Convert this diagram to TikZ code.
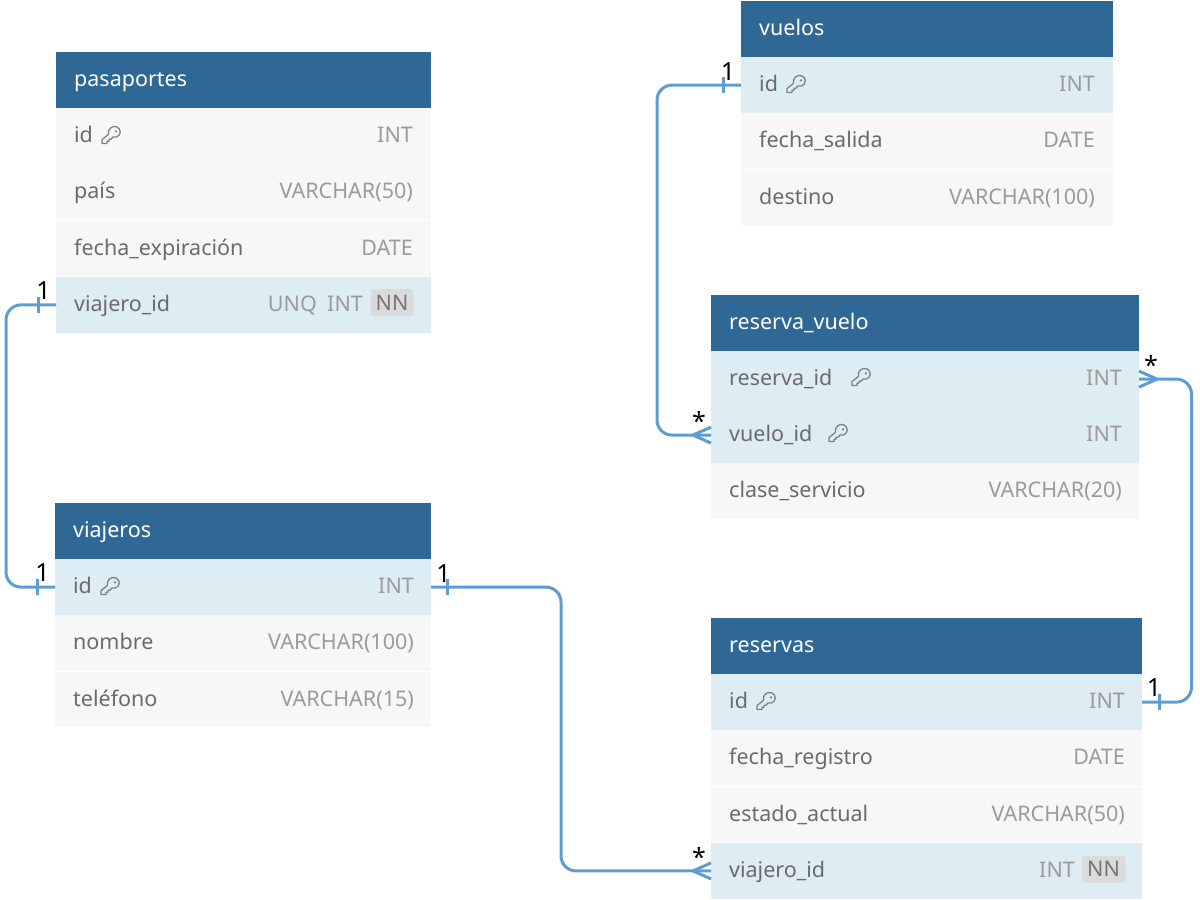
\documentclass[tikz,border=0pt]{standalone}
\usepackage{fontspec}
\setmainfont{Noto Sans}
\definecolor{hdr}{HTML}{306895}
\definecolor{hl}{HTML}{DEECF4}
\definecolor{plain}{HTML}{F7F7F7}
\definecolor{nametxt}{HTML}{6B6B6B}
\definecolor{typetxt}{HTML}{9B9B9B}
\definecolor{conn}{HTML}{5F9CD1}
\definecolor{badge}{HTML}{DBDBDB}
\tikzset{
  hbox/.style={fill=hdr,anchor=north west,inner sep=0pt,outer sep=0pt},
  rbox/.style={anchor=north west,inner sep=0pt,outer sep=0pt},
  hlrow/.style={rbox,fill=hl},
  plainrow/.style={rbox,fill=plain},
  title/.style={anchor=base west,inner sep=0pt,text=white,font=\fontsize{21.5}{26}\selectfont\bfseries},
  colname/.style={anchor=base west,inner sep=0pt,text=nametxt,font=\fontsize{21.5}{26}\selectfont},
  pkname/.style={colname,font=\fontsize{21.5}{26}\selectfont\bfseries},
  coltype/.style={anchor=base east,inner sep=0pt,text=typetxt,font=\fontsize{21.5}{26}\selectfont},
  pktype/.style={coltype,font=\fontsize{21.5}{26}\selectfont\bfseries},
  nnbox/.style={fill=badge,rounded corners=3pt,text=nametxt!80!typetxt,inner sep=0pt,minimum width=43pt,minimum height=27pt,font=\fontsize{21.5}{26}\selectfont},
  link/.style={draw=conn,line width=3pt,rounded corners=15pt},
  mark1/.style={draw=conn,line width=3pt},
  card/.style={inner sep=0pt,text=black,font=\fontsize{25}{30}\selectfont},
  keyicon/.pic={
    \draw[nametxt!85!white,line width=1.3pt,line join=round,fill=none]
      (-2.6,-0.6) .. controls (-3.6,-6.5) and (1.5,-9.5) .. (5.5,-8.3)
      .. controls (10.5,-6.5) and (10.5,0.5) .. (5.5,2)
      .. controls (4.2,2.4) and (3.2,2.4) .. (2,2)
      -- (0,4.2) -- (-2,4.2) -- (-2,6.2) -- (-4,6.2) -- (-4,8.5) -- (-9,8.5) -- (-9,4.6) -- cycle;
    \fill[nametxt!85!white] (5,-3.6) circle[radius=1.3];
  }
}
% \rowbox{name}{style}{x}{y}{width}
\newcommand{\rowbox}[5]{\node[#2,minimum width=#5pt,minimum height=56.2pt] (#1) at (#3,#4) {};
  \draw[white,line width=1pt] (#1.south west) -- (#1.south east);}
\begin{document}
\begin{tikzpicture}[x=1pt,y=-1pt]
\useasboundingbox (0,0) rectangle (1200,900);

% pasaportes
\node[hbox,minimum width=375pt,minimum height=56pt] (pH) at (56,52) {};
\node[title] (pT) at (74,86) {pasaportes};
\rowbox{p1}{plainrow}{56}{108}{375}
\rowbox{p2}{plainrow}{56}{164.3}{375}
\rowbox{p3}{plainrow}{56}{220.5}{375}
\rowbox{p4}{hlrow}{56}{276.8}{375}
\node[pkname] (p1n) at (74,142) {id};
\pic at (111,135) {keyicon};
\node[pktype] (p1t) at (413,142) {INT};
\node[colname] (p2n) at (74,198) {país};
\node[coltype] (p2t) at (413,198) {VARCHAR(50)};
\node[colname] (p3n) at (74,255) {fecha\_expiración};
\node[coltype] (p3t) at (413,255) {DATE};
\node[colname] (p4n) at (74,311) {viajero\_id};
\node[nnbox] (p4b) at (392,302.5) {NN};
\node[coltype] (p4t) at (363,311) {INT};
\node[coltype] (p4u) at (317,311) {UNQ};

% viajeros
\node[hbox,minimum width=376pt,minimum height=56pt] (vH) at (55,503) {};
\node[title] (vT) at (73,537) {viajeros};
\rowbox{v1}{hlrow}{55}{559}{376}
\rowbox{v2}{plainrow}{55}{615.3}{376}
\rowbox{v3}{plainrow}{55}{671.5}{376}
\node[pkname] (v1n) at (73,593) {id};
\pic at (110,586) {keyicon};
\node[pktype] (v1t) at (414,593) {INT};
\node[colname] (v2n) at (73,649) {nombre};
\node[coltype] (v2t) at (414,649) {VARCHAR(100)};
\node[colname] (v3n) at (73,706) {teléfono};
\node[coltype] (v3t) at (414,706) {VARCHAR(15)};

% vuelos
\node[hbox,minimum width=372pt,minimum height=56pt] (uH) at (741,1) {};
\node[title] (uT) at (759,35) {vuelos};
\rowbox{u1}{hlrow}{741}{57}{372}
\rowbox{u2}{plainrow}{741}{113.3}{372}
\rowbox{u3}{plainrow}{741}{169.5}{372}
\node[pkname] (u1n) at (759,91) {id};
\pic at (796,84) {keyicon};
\node[pktype] (u1t) at (1095,91) {INT};
\node[colname] (u2n) at (759,147) {fecha\_salida};
\node[coltype] (u2t) at (1095,147) {DATE};
\node[colname] (u3n) at (759,204) {destino};
\node[coltype] (u3t) at (1095,204) {VARCHAR(100)};

% reserva_vuelo
\node[hbox,minimum width=428pt,minimum height=56pt] (rH) at (711,295) {};
\node[title] (rT) at (729,329) {reserva\_vuelo};
\rowbox{r1}{hlrow}{711}{351}{428}
\rowbox{r2}{hlrow}{711}{407}{428}
\rowbox{r3}{plainrow}{711}{463}{428}
\node[pkname] (r1n) at (729,385) {reserva\_id};
\pic at (861,377) {keyicon};
\node[pktype] (r1t) at (1122,385) {INT};
\node[pkname] (r2n) at (729,441) {vuelo\_id};
\pic at (838,433) {keyicon};
\node[pktype] (r2t) at (1122,441) {INT};
\node[colname] (r3n) at (729,497) {clase\_servicio};
\node[coltype] (r3t) at (1122,497) {VARCHAR(20)};

% reservas
\node[hbox,minimum width=431pt,minimum height=56pt] (sH) at (711,618) {};
\node[title] (sT) at (729,652) {reservas};
\rowbox{s1}{hlrow}{711}{674}{431}
\rowbox{s2}{plainrow}{711}{730.3}{431}
\rowbox{s3}{plainrow}{711}{786.5}{431}
\rowbox{s4}{hlrow}{711}{842.8}{431}
\node[pkname] (s1n) at (729,708) {id};
\pic at (766,701) {keyicon};
\node[pktype] (s1t) at (1125,708) {INT};
\node[colname] (s2n) at (729,764) {fecha\_registro};
\node[coltype] (s2t) at (1125,764) {DATE};
\node[colname] (s3n) at (729,821) {estado\_actual};
\node[coltype] (s3t) at (1125,821) {VARCHAR(50)};
\node[colname] (s4n) at (729,877) {viajero\_id};
\node[nnbox] (s4b) at (1103.5,869) {NN};
\node[coltype] (s4t) at (1075,877) {INT};

% connectors
\draw[link] (p4.west) -- ++(-50,0) |- (v1.west);
\draw[link] (v1.east) -- ++(130,0) |- (s4.west);
\draw[link] (u1.west) -- ++(-84,0) |- (r2.west);
\draw[link] (s1.east) -- ++(49.5,0) |- (r1.east);

% one-side ticks
\draw[mark1] (p4.west) ++(-17.5,-8) -- ++(0,16);
\draw[mark1] (v1.west) ++(-17.5,-8) -- ++(0,16);
\draw[mark1] (v1.east) ++(16,-8) -- ++(0,16);
\draw[mark1] (u1.west) ++(-18,-8) -- ++(0,16);
\draw[mark1] (s1.east) ++(17,-8) -- ++(0,16);

% crow feet
\draw[mark1] (r2.west) ++(0,-8) -- ++(-18,8) -- ++(18,8);
\draw[mark1] (s4.west) ++(0,-8) -- ++(-18,8) -- ++(18,8);
\draw[mark1] (r1.east) ++(0,-8) -- ++(18,8) -- ++(-18,8);

% cardinalities
\node[card] (c1) at (43.5,291) {1};
\node[card] (c2) at (42.5,573) {1};
\node[card] (c3) at (443.5,574) {1};
\node[card] (c4) at (728,72) {1};
\node[card] (c5) at (1154,688) {1};
\node[card] (c6) at (699,421) {*};
\node[card] (c7) at (699,857) {*};
\node[card] (c8) at (1151,365) {*};
\end{tikzpicture}
\end{document}
